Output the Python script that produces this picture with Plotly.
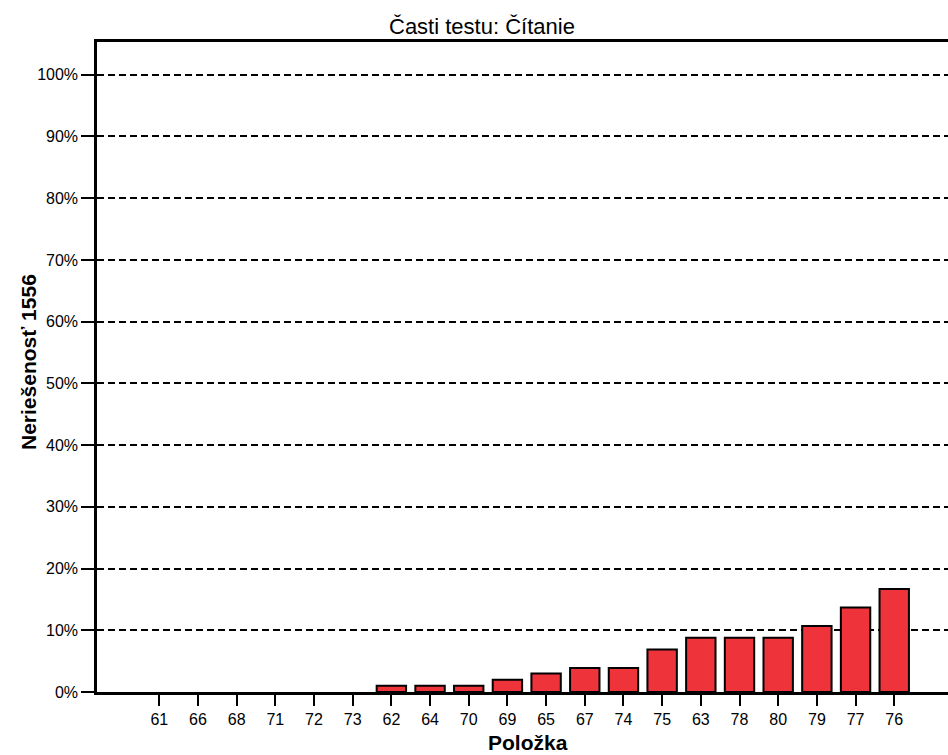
import plotly.graph_objects as go

# Data
items = ['61', '66', '68', '71', '72', '73', '62', '64', '70', '69',
         '65', '67', '74', '75', '63', '78', '80', '79', '77', '76']
unsolved_pct = [0, 0, 0, 0, 0, 0, 1.0, 1.0, 1.0, 2.0,
                3.0, 3.9, 3.9, 6.9, 8.8, 8.8, 8.8, 10.7, 13.7, 16.7]
y_ticks = list(range(0, 101, 10))
y_labels = [f'{v}%' for v in y_ticks]

TITLE = 'Časti testu: Čítanie'
X_TITLE = 'Položka'
Y_TITLE = 'Neriešenosť 1556'
FONT = 'Liberation Sans, Arial, sans-serif'

# no outline on empty bars, so they don't poke above the axis line
outline_w = [0 if v == 0 else 2 for v in unsolved_pct]

fig = go.Figure()
fig.add_trace(go.Bar(
    x=items, y=unsolved_pct,
    marker=dict(color='rgb(239,51,59)', line=dict(color='black', width=outline_w)),
    showlegend=False
))

fig.update_layout(
    width=948, height=755,
    margin=dict(l=97, r=0, t=42, b=63),
    plot_bgcolor='white', paper_bgcolor='white',
    font=dict(family=FONT, color='black'),
    bargap=0.24,
)
fig.add_annotation(text=TITLE, xref='paper', yref='paper', x=0.4524, y=1.0,
                   yshift=16, showarrow=False, font=dict(size=22),
                   xanchor='center', yanchor='middle')
fig.add_annotation(text='<b>' + X_TITLE + '</b>', xref='paper', yref='paper',
                   x=0.5063, y=0, yshift=-50, showarrow=False, font=dict(size=21),
                   xanchor='center', yanchor='middle')
fig.add_annotation(text='<b>' + Y_TITLE + '</b>', xref='paper', yref='paper',
                   x=0, xshift=-69, y=0.5, yshift=5, showarrow=False,
                   font=dict(size=21), textangle=-90,
                   xanchor='center', yanchor='middle')

fig.update_xaxes(
    type='category', range=[-1.61, 20.39],
    showline=True, linecolor='black', linewidth=2.5, mirror=True,
    ticks='outside', ticklen=11, tickwidth=2, tickcolor='black',
    tickfont=dict(size=16), showgrid=False, automargin=False
)
fig.update_yaxes(
    range=[0, 105.3], tickvals=y_ticks, ticktext=y_labels,
    showline=True, linecolor='black', linewidth=2.5,
    ticks='outside', ticklen=13, tickwidth=2, tickcolor='black',
    tickfont=dict(size=16),
    showgrid=True, gridcolor='black', gridwidth=2, griddash='7px,4px',
    zeroline=False, automargin=False
)

fig.write_html('out.html', config={'displayModeBar': False},
               post_script="document.body.style.margin='0';")
